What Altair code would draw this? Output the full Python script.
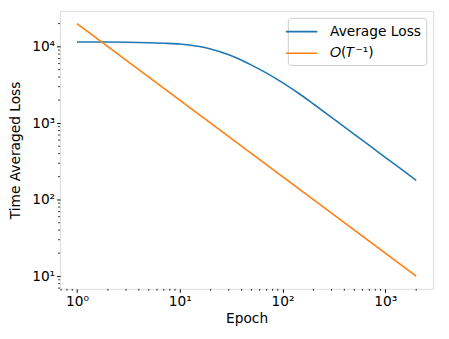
import altair as alt
import pandas as pd

# ---- data ----
epochs = [1, 2, 3, 5, 7, 10, 15, 20, 30, 40, 50, 70, 100, 150, 200, 300, 500, 700, 1000, 1500, 2000]
avg_loss = [11500, 11480, 11430, 11270, 11090, 10840, 10120, 9330, 7820, 6640, 5730, 4500,
            3380, 2350, 1780, 1194, 716, 512, 358, 239, 179]
ref_epochs = [1, 2000]
ref_loss = [20000, 10]
series_names = ["Average Loss", "𝑂(𝑇⁻¹)"]
series_colors = ["#1f77b4", "#ff7f0e"]

x_major = [1, 10, 100, 1000]
y_major = [10, 100, 1000, 10000]
x_minor = [0.7, 0.8, 0.9, 2, 3, 4, 5, 6, 7, 8, 9, 20, 30, 40, 50, 60, 70, 80, 90,
           200, 300, 400, 500, 600, 700, 800, 900, 2000]
y_minor = [7, 8, 9, 20, 30, 40, 50, 60, 70, 80, 90, 200, 300, 400, 500, 600, 700, 800, 900,
           2000, 3000, 4000, 5000, 6000, 7000, 8000, 9000, 20000]
x_domain = [0.684, 2925]
y_domain = [6.84, 29240]

W, H = 380, 283
FONT = "DejaVu Sans"

rows = [{"epoch": e, "loss": l, "series": series_names[0], "order": i} for i, (e, l) in enumerate(zip(epochs, avg_loss))]
rows += [{"epoch": e, "loss": l, "series": series_names[1], "order": i} for i, (e, l) in enumerate(zip(ref_epochs, ref_loss))]
df = pd.DataFrame(rows)

sup = {1: "10⁰", 10: "10¹", 100: "10²", 1000: "10³", 10000: "10⁴"}
label_expr = " : ".join([f"datum.value == {k} ? '{v}'" for k, v in sup.items()]) + " : ''"

xscale = alt.Scale(type="log", domain=x_domain, nice=False)
yscale = alt.Scale(type="log", domain=y_domain, nice=False)

axis_common = dict(labelExpr=label_expr, grid=False, domain=False,
                   tickSize=3.5, tickColor="black", labelFontSize=14, titleFontSize=14,
                   labelFont=FONT, titleFont=FONT, labelColor="black", titleColor="black",
                   labelPadding=2, titleFontWeight="normal")

lines = alt.Chart(df).mark_line(strokeWidth=1.6, interpolate="monotone", clip=True).encode(
    x=alt.X("epoch:Q", scale=xscale, title="Epoch",
            axis=alt.Axis(values=x_major, titlePadding=4, **axis_common)),
    y=alt.Y("loss:Q", scale=yscale, title="Time Averaged Loss",
            axis=alt.Axis(values=y_major, titlePadding=9, **axis_common)),
    color=alt.Color("series:N", scale=alt.Scale(domain=series_names, range=series_colors),
                    legend=alt.Legend(title=None, orient="top-right", offset=7,
                                      symbolType="M-2,0L2,0", symbolSize=256, symbolStrokeWidth=1.6,
                                      labelFont=FONT, labelFontSize=14, labelColor="black",
                                      strokeColor="#cccccc", cornerRadius=3, fillColor="white",
                                      padding=5, rowPadding=6, labelOffset=20)),
    order="order:Q",
)

xminor_df = pd.DataFrame({"v": x_minor})
yminor_df = pd.DataFrame({"v": y_minor})

xminor = alt.Chart(xminor_df).mark_rule(color="black", strokeWidth=0.8).encode(
    x=alt.X("v:Q", scale=xscale), y=alt.value(H), y2=alt.value(H + 2))
yminor = alt.Chart(yminor_df).mark_rule(color="black", strokeWidth=0.8).encode(
    y=alt.Y("v:Q", scale=yscale), x=alt.value(0), x2=alt.value(-2))

chart = alt.layer(lines, xminor, yminor).properties(
    width=W, height=H,
    autosize=alt.AutoSizeParams(type="none"),
    padding={"left": 53, "top": 0, "right": 8, "bottom": 45},
).configure_view(stroke="black", strokeWidth=1).configure(background="white")

chart.save("out.html", embed_options={"renderer": "svg", "actions": False})
